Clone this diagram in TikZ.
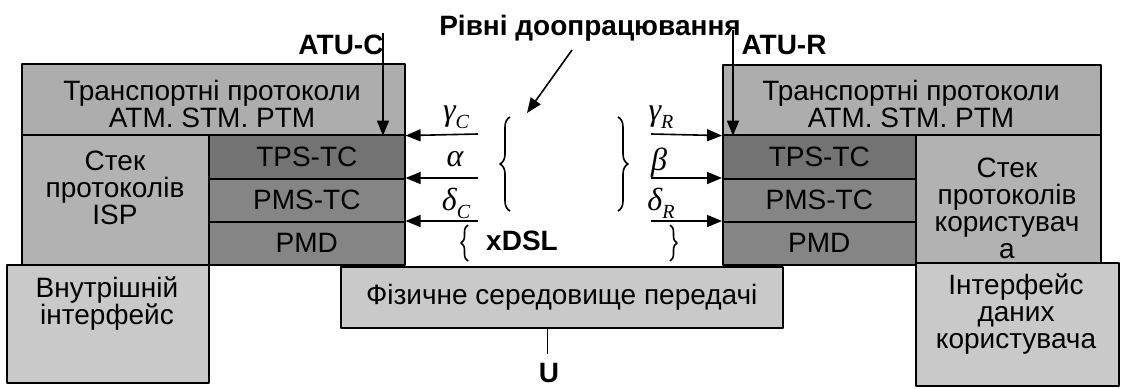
\documentclass[tikz,border=0pt]{standalone}
\usepackage{fontspec}
\setmainfont{Liberation Sans}
\newfontfamily\grkfont{Liberation Serif}
\usetikzlibrary{positioning,arrows.meta,decorations.pathreplacing}
\definecolor{transgray}{gray}{0.68}
\definecolor{tpsgray}{gray}{0.45}
\definecolor{pmsgray}{gray}{0.52}
\definecolor{stackgray}{gray}{0.70}
\definecolor{lowgray}{gray}{0.79}
\newcommand{\grk}[2]{#1\raisebox{-0.25em}{\fontsize{20}{20}\selectfont #2}}
\tikzset{
  box/.style={draw, line width=1.6pt, inner sep=0pt, anchor=north west},
  txt/.style={font=\fontsize{28}{27}\selectfont, align=center, inner sep=0pt},
  bold/.style={font=\fontsize{28}{28}\selectfont\bfseries, inner sep=0pt},
  mlbl/.style={font=\fontsize{32}{32}\selectfont\grkfont\itshape, inner sep=0pt},
  arr/.style={line width=1.6pt, -{Triangle[length=15pt,width=12pt]}},
  brc/.style={decorate, decoration={brace, amplitude=#1}, line width=1.6pt},
}
\begin{document}
\begin{tikzpicture}[x=1pt, y=-1pt, line join=round]
\useasboundingbox (0,0) rectangle (1123,388);
% left side, ATU-C
\node[box, fill=transgray, minimum width=383, minimum height=71] (trC) at (21,63) {};
\node[box, fill=stackgray, minimum width=187, minimum height=130] (stC) at (21,134) {};
\node[box, fill=tpsgray, minimum width=196, minimum height=44] (tpsC) at (208,134) {};
\node[box, fill=pmsgray, minimum width=196, minimum height=43] (pmsC) at (208,178) {};
\node[box, fill=pmsgray, minimum width=196, minimum height=43] (pmdC) at (208,221) {};
\node[box, fill=lowgray, minimum width=202, minimum height=118] (ifC) at (6,264) {};
% right side, ATU-R
\node[box, fill=transgray, minimum width=378, minimum height=70] (trR) at (722,64) {};
\node[box, fill=tpsgray, minimum width=193, minimum height=44] (tpsR) at (722,134) {};
\node[box, fill=pmsgray, minimum width=193, minimum height=43] (pmsR) at (722,178) {};
\node[box, fill=pmsgray, minimum width=193, minimum height=43] (pmdR) at (722,221) {};
\node[box, fill=stackgray, minimum width=185, minimum height=128] (stR) at (915,134) {};
\node[box, fill=lowgray, minimum width=203, minimum height=123] (ifR) at (915,262) {};
% medium
\node[box, fill=lowgray, minimum width=442, minimum height=61] (phys) at (340,266) {};
% box texts
\node[txt] (trCt) at (212,104) {Транспортні протоколи\\ATM. STM. PTM};
\node[txt] (stCt) at (115,188) {Стек\\протоколів\\ISP};
\node[txt] (tpsCt) at (tpsC.center) {TPS-TC};
\node[txt] (pmsCt) at (pmsC.center) {PMS-TC};
\node[txt] (pmdCt) at (pmdC.center) {PMD};
\node[txt] (ifCt) at (107,304) {Внутрішній\\інтерфейс};
\node[txt] (trRt) at (911,104) {Транспортні протоколи\\ATM. STM. PTM};
\node[txt] (tpsRt) at (tpsR.center) {TPS-TC};
\node[txt] (pmsRt) at (pmsR.center) {PMS-TC};
\node[txt] (pmdRt) at (pmdR.center) {PMD};
\node[txt] (stRt) at (1007,208) {Стек\\протоколів\\користувач\\а};
\node[txt] (ifRt) at (1016,314) {Інтерфейс\\даних\\користувача};
\node[txt] (physt) at (phys.center) {Фізичне середовище передачі};
% labels on top
\node[bold] (title) at (590,28) {Рівні доопрацювання};
\node[bold] (atuC) at (341,45) {ATU-C};
\node[bold] (atuR) at (784,45) {ATU-R};
\coordinate (cAtuC) at (383,33);
\coordinate (cAtuR) at (733,30);
\draw[arr] (cAtuC) -- (cAtuC |- trC.south);
\draw[arr] (cAtuR) -- (cAtuR |- trR.south);
\coordinate (tA) at (572,50);
\coordinate (tB) at (527,113);
\draw[arr] (tA) -- (tB);
% reference points
\coordinate (gC) at (478,134);
\coordinate (aC) at (478,178);
\coordinate (dC) at (478,221);
\coordinate (gR) at (651,134);
\coordinate (bR) at (651,178);
\coordinate (dR) at (651,221);
\draw[arr] (gC) -- (trC.south east);
\draw[arr] (aC) -- (pmsC.north east);
\draw[arr] (dC) -- (pmdC.north east);
\draw[arr] (gR) -- (trR.south west);
\draw[arr] (bR) -- (pmsR.north west);
\draw[arr] (dR) -- (pmdR.north west);
\node[mlbl] (lgC) at (456,117) {\grk{γ}{C}};
\node[mlbl] (laC) at (455,159) {α};
\node[mlbl] (ldC) at (456,203) {\grk{δ}{C}};
\node[mlbl] (lgR) at (661,117) {\grk{γ}{R}};
\node[mlbl] (lbR) at (659,163) {β};
\node[mlbl] (ldR) at (661,203) {\grk{δ}{R}};
% braces
\draw[brc=10pt] (510,211) -- (510,117);
\draw[brc=10pt] (618,117) -- (618,211);
\draw[brc=7pt] (468,261) -- (468,225);
\draw[brc=7pt] (670,225) -- (670,261);
\node[bold] (xdsl) at (522,241) {xDSL};
\coordinate (cU) at (547,354);
\draw[line width=1pt] (cU |- phys.south) -- (cU);
\node[bold] (uU) at (549,373) {U};
\end{tikzpicture}
\end{document}
